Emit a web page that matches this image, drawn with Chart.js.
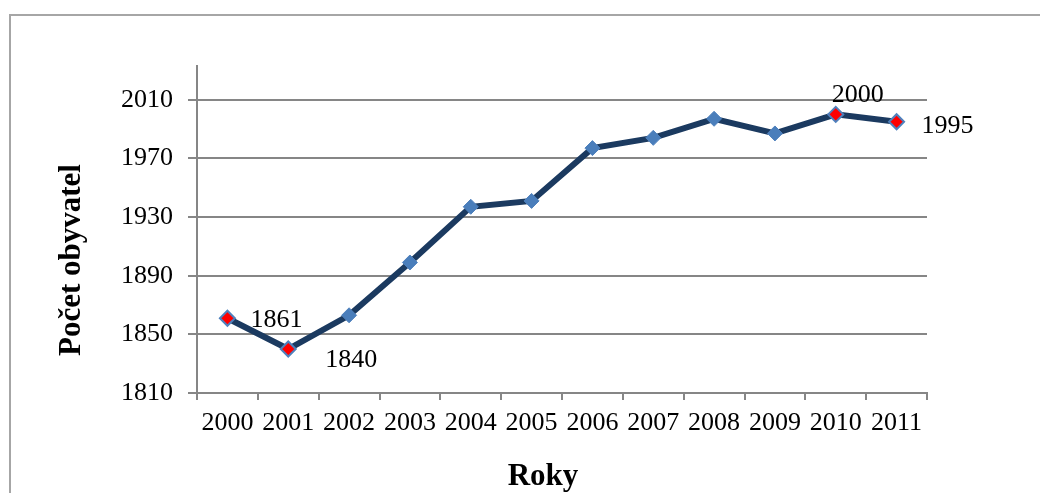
<!DOCTYPE html>
<html>
<head>
<meta charset="utf-8">
<script src="https://cdn.jsdelivr.net/npm/chart.js@4/dist/chart.umd.min.js"></script>
<style>
  html, body { margin: 0; padding: 0; background: #fff; }
  #wrap { position: relative; width: 1040px; height: 493px; overflow: hidden; }
  #frame { position: absolute; left: 9px; top: 14px; width: 1100px; height: 600px; border: 2px solid #a6a6a6; }
  canvas { position: absolute; left: 0; top: 0; }
</style>
</head>
<body>
<div id="wrap">
  <div id="frame"></div>
  <canvas id="chart" width="1040" height="493"></canvas>
</div>
<script>
const years = ['2000', '2001', '2002', '2003', '2004', '2005', '2006', '2007', '2008', '2009', '2010', '2011'];
const population = [1861, 1840, 1863, 1899, 1937, 1941, 1977, 1984, 1997, 1987, 2000, 1995];
const yTicks = [1810, 1850, 1890, 1930, 1970, 2010];
const labeledYears = ['2000', '2001', '2010', '2011'];

const FONT = "'Liberation Serif', 'Times New Roman', serif";
const GRID = '#868686';

// where each value label sits relative to its point
const labelOffsets = { '2000': [49, 2], '2001': [63, 11], '2010': [22, -19], '2011': [51, 4] };

const isLabeled = years.map(y => labeledYears.includes(y));

const valueLabels = {
  id: 'valueLabels',
  afterDatasetsDraw(chart) {
    const ctx = chart.ctx;
    const meta = chart.getDatasetMeta(0);
    ctx.save();
    ctx.font = '26px ' + FONT;
    ctx.fillStyle = '#000';
    ctx.textAlign = 'center';
    ctx.textBaseline = 'middle';
    meta.data.forEach((pt, i) => {
      if (!isLabeled[i]) return;
      const off = labelOffsets[years[i]];
      ctx.fillText(String(population[i]), pt.x + off[0], pt.y + off[1]);
    });
    ctx.restore();
  }
};

// axis titles, placed as in the original
const axisTitles = {
  id: 'axisTitles',
  afterDraw(chart) {
    const ctx = chart.ctx;
    ctx.save();
    ctx.fillStyle = '#000';
    ctx.textAlign = 'center';
    ctx.textBaseline = 'middle';
    ctx.font = 'bold 31px ' + FONT;
    ctx.fillText('Roky', 543, 477);
    ctx.translate(72, 260);
    ctx.rotate(-Math.PI / 2);
    ctx.font = 'bold 31px ' + FONT;
    ctx.fillText('Počet obyvatel', 0, 0);
    ctx.restore();
  }
};

new Chart(document.getElementById('chart'), {
  type: 'line',
  data: {
    labels: years,
    datasets: [{
      data: population,
      borderColor: '#1B3A60',
      borderWidth: 6,
      tension: 0,
      pointStyle: 'rectRot',
      pointRadius: 7.5,
      pointHoverRadius: 7.5,
      pointBackgroundColor: isLabeled.map(f => f ? '#FF0000' : '#4A7EBB'),
      pointBorderColor: '#4F81BD',
      pointBorderWidth: isLabeled.map(f => f ? 2 : 1)
    }]
  },
  options: {
    responsive: false,
    animation: false,
    layout: { padding: { left: 0, top: 66, right: 113, bottom: 0 } },
    plugins: {
      legend: { display: false },
      tooltip: { enabled: false }
    },
    scales: {
      x: {
        offset: true,
        grid: { drawOnChartArea: false, offset: true, tickLength: 7, color: GRID, lineWidth: 2 },
        border: { color: GRID, width: 2 },
        ticks: { color: '#000', font: { family: FONT, size: 26 }, padding: 8, maxRotation: 0, autoSkip: false },
        afterFit: s => { s.height = 100; }
      },
      y: {
        min: 1810,
        max: 2033,
        afterBuildTicks: s => { s.ticks = yTicks.map(v => ({ value: v })); },
        grid: { color: GRID, lineWidth: 2, tickLength: 9 },
        border: { color: GRID, width: 2 },
        ticks: { color: '#000', font: { family: FONT, size: 26 }, padding: 15, callback: v => String(v) },
        afterFit: s => { s.width = 197; }
      }
    }
  },
  plugins: [valueLabels, axisTitles]
});
</script>
</body>
</html>
